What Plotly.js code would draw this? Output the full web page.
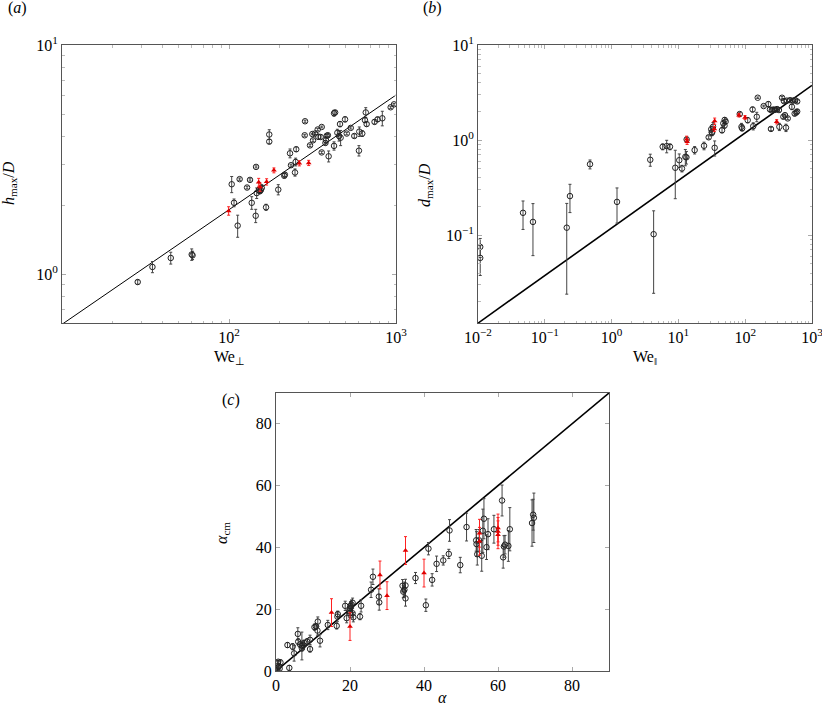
<!DOCTYPE html>
<html><head><meta charset="utf-8">
<script src="https://cdn.plot.ly/plotly-3.0.1.min.js"></script>
<style>body{margin:0;background:#fff}#p{width:822px;height:707px}</style>
</head><body><div id="p"></div>
<script>
// ---------- Panel (a): h_max/D vs We_perp ----------
const aWe  = [28.4,34.8,44.8,59.8,60.5,103.8,107.2,112.7,115.8,128.3,133.6,136.8,144.5,145.2,146.5,151,153,155,157,166.7,174.2,174.2,197.2,214.3,216,231.9,235,248.4,250.6,252.7,285.4,284,305.5,315.5,318.5,327.5,339.8,342.6,354,359,359,381,385,391,378,395,425.6,432,425.6,445.6,456,462,466,495.5,507,535.8,562.8,600,603,628,659,652,667,744,776,828,929,973];
const aH   = [0.925,1.076,1.178,1.22,1.21,2.47,2.05,1.63,2.60,2.39,2.58,2.05,1.80,2.94,2.26,2.33,2.30,2.33,2.38,1.96,4.07,3.79,2.34,2.69,2.72,3.37,2.99,2.78,3.09,3.51,4.65,4.04,3.65,4.09,3.84,4.11,4.28,3.98,3.97,4.39,3.40,3.84,4.02,4.04,3.74,3.27,5.04,5.08,3.63,4.14,4.01,4.52,3.94,4.74,4.11,4.35,4.01,3.46,4.19,4.11,5.08,4.70,4.52,4.62,4.74,4.79,5.35,5.51];
const aErr = [0.02,0.06,0.07,0.07,0.05,0.2,0.08,0.18,0.03,0.03,0.03,0.13,0.12,0.03,0.12,0.05,0.05,0.05,0.08,0.06,0.2,0.08,0.12,0.06,0.05,0.15,0.03,0.1,0.12,0.08,0.05,0.04,0.04,0.03,0.05,0.04,0.05,0.1,0.08,0.04,0.04,0.12,0.05,0.05,0.08,0.18,0.15,0.1,0.15,0.15,0.2,0.12,0.3,0.12,0.05,0.05,0.08,0.18,0.2,0.12,0.25,0.1,0.1,0.1,0.1,0.35,0.06,0.05];
const aWeR  = [99.5,150.6,153.5,168,185.8,263.7,300];
const aHR   = [1.89,2.52,2.40,2.53,2.84,3.05,3.06];
const aErrR = [0.08,0.1,0.1,0.08,0.07,0.08,0.08];
const aLineX = [10,1000];
const aLineY = [0.605,6.05];

// ---------- Panel (b): d_max/D vs We_par ----------
const bWe  = [0.0108,0.0108,0.0472,0.0665,0.213,0.238,0.475,1.205,3.79,4.26,5.82,6.68,7.48,8.98,10.3,11.3,12.7,13.2,13.3,17.5,24.2,28.4,31.5,31,33,32,34.9,45,47,49.3,51,49,82.8,88,90,109,132,129,149,154,189,222,235,250,265,280,300,320,243,325,356,373,394,408,433,380,420,470,520,560,600,500,550,580,600];
const bD   = [0.0754,0.0577,0.172,0.138,0.12,0.258,0.558,0.224,0.621,0.1025,0.851,0.865,0.851,0.512,0.615,0.503,0.667,0.66,1.016,0.785,0.871,1.07,1.21,1.3,1.38,1.20,0.830,1.27,1.50,1.63,1.57,1.42,1.88,1.38,1.33,1.62,1.40,2.10,1.76,2.79,2.28,2.39,2.1,2.05,2.1,2.08,2.12,2.07,1.31,1.38,2.79,1.76,1.83,1.35,1.69,2.57,2.60,2.63,2.60,2.63,2.55,2.24,1.9,1.95,2.0];
const bErr = [0.017,0.02,0.057,0.077,0.096,0.085,0.06,0.09,0.09,0.078,0.06,0.13,0.06,0.27,0.1,0.04,0.13,0.1,0.06,0.07,0.08,0.04,0.1,0.1,0.15,0.08,0.15,0.08,0.1,0.1,0.08,0.08,0.08,0.12,0.08,0.1,0.12,0.12,0.2,0.05,0.05,0.15,0.1,0.08,0.1,0.08,0.06,0.08,0.05,0.12,0.08,0.08,0.05,0.12,0.05,0.1,0.1,0.1,0.1,0.08,0.1,0.15,0.1,0.1,0.1];
const bWeR  = [13.3,13.5,34.9,34.5,80.7,99.4,296];
const bDR   = [1.02,0.96,1.585,1.31,1.83,1.73,1.56];
const bErrR = [0.08,0.06,0.12,0.08,0.08,0.08,0.08];
const bLineX = [0.01,1000];
const bLineY = [0.0119,3.77];

// ---------- Panel (c): alpha_cm vs alpha ----------
const cA   = [0.2,0.5,0.8,1.2,0.6,1.0,3.6,3.1,4.5,4.9,5.9,6.0,6.5,7.0,7.4,7.7,7.0,8.4,9.2,9.2,10.4,10.8,11.2,11.3,11.9,14.0,16.4,16.6,16.7,18.7,19.1,19.8,20.0,20.2,20.4,20.7,20.0,20.9,20.7,22.7,23.0,25.7,26.2,27.8,27.9,34.2,34.7,34.4,35.0,35.0,37.7,40.5,41.2,42.2,43.4,45.2,46.7,46.9,49.8,51.5,54.1,54.2,54.4,54.9,55.6,55.9,56.2,56.9,57.3,58.9,61.1,61.4,61.6,61.9,62.8,63.2,69.2,69.5,69.7];
const cAcm = [0.5,2.5,1.5,2.8,3.0,0.8,1.0,8.4,7.9,5.7,12.0,9.5,8.6,8.1,8.4,9.0,7.4,9.5,10.1,7.1,14.2,14.4,13.1,16.0,9.8,14.9,14.6,17.6,18.4,21.1,17.1,19.5,20.3,21.0,21.5,22.1,18.8,17.4,18.7,17.6,21.1,26.3,30.5,24.1,22.2,27.6,26.3,25.7,27.7,23.5,30.1,21.3,39.6,29.5,34.7,35.8,37.9,45.5,34.3,46.6,42.3,41.1,37.8,42.3,37.3,45.4,49.3,40.1,44.3,45.9,55.2,36.8,40.3,40.9,40.5,45.9,47.9,50.6,49.6];
const cErr = [0.5,0.8,0.8,0.8,0.5,0.5,0.8,0.8,1.0,2.5,2.0,1.0,1.0,4.5,1.5,1.0,1.0,1.0,1.5,1.0,1.0,1.0,1.5,1.5,2.0,1.5,1.0,1.5,1.0,1.5,1.5,1.5,1.5,1.5,1.5,1.5,1.5,1.5,1.5,1.0,2.0,2.5,2.5,2.5,2.5,2.0,2.5,2.0,2.0,2.5,1.8,2.0,2.0,2.0,2.5,1.5,1.5,3.5,2.5,4.5,3.5,4.0,3.5,3.5,5.0,7.0,6.5,4.0,5.0,4.5,5.0,3.5,3.5,3.0,5.0,7.0,7.5,5.0,8.0];
const cAR   = [15.0,20.0,28.1,30.0,35.0,40.0,55.0,55.0,60.0,60.0,60.0];
const cAcmR = [18.9,14.4,31.1,24.4,39.0,31.7,44.6,42.0,46.3,45.2,44.1];
const cErrR = [4.5,4.5,4.5,4.5,4.5,4.5,4.5,4.5,4.5,4.5,4.5];
const cLineX = [0,90];
const cLineY = [0,90];

const logTicksA = [100,1000], logTextA = ['10<sup>2</sup>','10<sup>3</sup>'];
const logTicksAy = [1,10], logTextAy = ['10<sup>0</sup>','10<sup>1</sup>'];
const logTicksB = [0.01,0.1,1,10,100,1000], logTextB = ['10<sup>−2</sup>','10<sup>−1</sup>','10<sup>0</sup>','10<sup>1</sup>','10<sup>2</sup>','10<sup>3</sup>'];
const logTicksBy = [0.1,1,10], logTextBy = ['10<sup>−1</sup>','10<sup>0</sup>','10<sup>1</sup>'];
const linTicks = [0,20,40,60,80];

function minors(d0,d1){const v=[];for(let e=d0;e<d1;e++)for(let k=2;k<=9;k++)v.push(k*Math.pow(10,e));return v;}

const W=822,H=707;
const px=x=>x/W, py=y=>1-y/H;

const blackMk = {symbol:'circle-open',size:5.5,color:'#222',line:{width:1,color:'#222'}};
const redMk = {symbol:'triangle-up',size:5,color:'#e00000'};
const errB = arr=>({type:'data',array:arr,visible:true,color:'#444',thickness:1,width:1.5});
const errR = arr=>({type:'data',array:arr,visible:true,color:'#ff2020',thickness:1,width:1.5});

const traces = [
 {x:aLineX,y:aLineY,mode:'lines',line:{color:'#000',width:1},xaxis:'x',yaxis:'y',hoverinfo:'skip'},
 {x:aWe,y:aH,error_y:errB(aErr),mode:'markers',marker:blackMk,xaxis:'x',yaxis:'y'},
 {x:aWeR,y:aHR,error_y:errR(aErrR),mode:'markers',marker:redMk,xaxis:'x',yaxis:'y'},
 {x:bLineX,y:bLineY,mode:'lines',line:{color:'#000',width:1.6},xaxis:'x2',yaxis:'y2'},
 {x:bWe,y:bD,error_y:errB(bErr),mode:'markers',marker:blackMk,xaxis:'x2',yaxis:'y2'},
 {x:bWeR,y:bDR,error_y:errR(bErrR),mode:'markers',marker:redMk,xaxis:'x2',yaxis:'y2'},
 {x:cLineX,y:cLineY,mode:'lines',line:{color:'#000',width:1.6},xaxis:'x3',yaxis:'y3'},
 {x:cA,y:cAcm,error_y:errB(cErr),mode:'markers',marker:blackMk,xaxis:'x3',yaxis:'y3'},
 {x:cAR,y:cAcmR,error_y:errR(cErrR),mode:'markers',marker:redMk,xaxis:'x3',yaxis:'y3'}
];

const FAM = 'Liberation Serif';
const tf = {family:FAM,size:16,color:'#000'};
const lf = {family:FAM,size:16,color:'#000'};
const ax = (extra)=>Object.assign({showline:true,linecolor:'#555',linewidth:1,mirror:'ticks',ticks:'inside',ticklen:4,tickcolor:'#aaa',showgrid:false,zeroline:false,tickfont:tf,ticklabeloverflow:'allow'},extra);
const mn = (vals)=>({tickvals:vals,ticks:'inside',ticklen:2.5,tickcolor:'#bbb',showgrid:false});
const ann = (text,x,y,rot)=>({text:text,x:px(x),y:py(y),xref:'paper',yref:'paper',showarrow:false,textangle:rot||0,font:lf,xanchor:'center',yanchor:'middle'});

const layout = {
 width:W,height:H,margin:{l:0,r:0,t:0,b:0},showlegend:false,
 font:{family:FAM,size:16,color:'#000'},
 paper_bgcolor:'#fff',plot_bgcolor:'#fff',
 xaxis: ax({type:'log',domain:[px(62),px(396)],anchor:'y',range:[1,3],tickvals:logTicksA,ticktext:logTextA,minor:mn(minors(1,3))}),
 yaxis: ax({type:'log',domain:[py(323),py(45)],anchor:'x',range:[-0.2125,1],tickvals:logTicksAy,ticktext:logTextAy,minor:mn(minors(-1,1))}),
 xaxis2: ax({type:'log',domain:[px(478),px(812)],anchor:'y2',range:[-2,3],tickvals:logTicksB,ticktext:logTextB,minor:mn(minors(-2,3))}),
 yaxis2: ax({type:'log',domain:[py(323),py(45)],anchor:'x2',range:[-1.923,1],tickvals:logTicksBy,ticktext:logTextBy,minor:mn(minors(-2,1))}),
 xaxis3: ax({domain:[px(276),px(609)],anchor:'y3',range:[0,90],tickvals:linTicks}),
 yaxis3: ax({domain:[py(671),py(393)],anchor:'x3',range:[0,90],tickvals:linTicks}),
 annotations:[
  ann('(<i>a</i>)',17,8),
  ann('(<i>b</i>)',432,8),
  ann('(<i>c</i>)',231,400),
  ann('We<sub>⊥</sub>',229,357),
  ann('We<sub>‖</sub>',645,357),
  ann('<i>α</i>',443,697),
  ann('<i>h</i><sub>max</sub>/<i>D</i>',10,183,-90),
  ann('<i>d</i><sub>max</sub>/<i>D</i>',425,185,-90),
  ann('<i>α</i><sub>cm</sub>',222,533,-90)
 ]
};
Plotly.newPlot('p',traces,layout,{displayModeBar:false});
</script></body></html>
